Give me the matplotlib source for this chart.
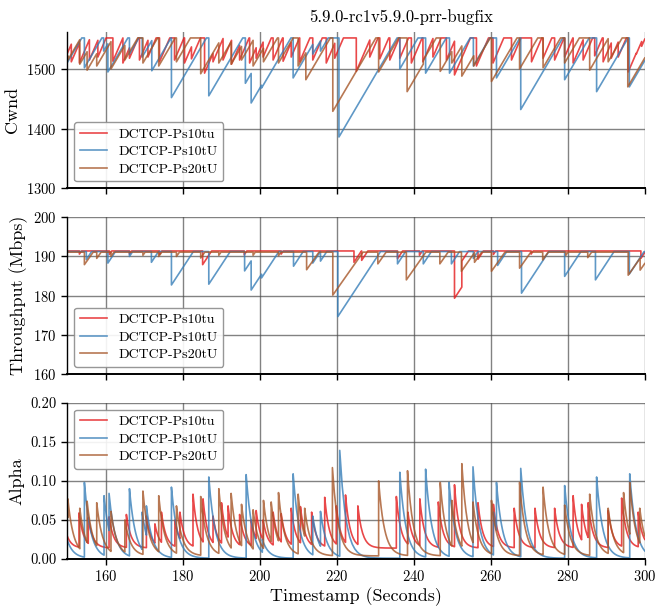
import numpy as np
import matplotlib
matplotlib.use('Agg')
import matplotlib.pyplot as plt

plt.rcParams['font.family'] = ['cmr10', 'DejaVu Serif']
plt.rcParams['mathtext.fontset'] = 'cm'
plt.rcParams['axes.unicode_minus'] = False
plt.rcParams['axes.formatter.use_mathtext'] = True

T0, T1 = 150, 300
names = ['DCTCP-Ps10tu', 'DCTCP-Ps10tU', 'DCTCP-Ps20tU']
colors = ['#e41a1c', '#377eb8', '#a65628']

# ---- Cwnd: drop times and value right after each drop (ceiling ~1552) ----
cwnd_cap = 1552
red_cwnd_t = [151.1, 153.2, 155.8, 158.0, 161.9, 164.5, 166.2, 168.8, 171.0, 174.0,
              177.9, 180.5, 182.3, 185.7, 187.9, 190.5, 192.7, 194.8, 197.4, 199.1,
              200.9, 203.5, 206.1, 208.2, 210.4, 213.8, 217.3, 219.5, 225.1, 228.6,
              231.2, 233.8, 236.4, 239.4, 242.4, 245.0, 248.5, 250.6, 256.3, 260.6,
              265.4, 270.6, 273.6, 276.6, 279.2, 281.4, 284.0, 287.0, 289.2, 291.3,
              293.1, 295.7, 297.8, 299.2]
red_cwnd_lo = [1512, 1510, 1515, 1520, 1513, 1510, 1518, 1515, 1520, 1512,
               1515, 1510, 1517, 1493, 1512, 1515, 1508, 1515, 1510, 1518,
               1520, 1515, 1513, 1520, 1512, 1515, 1510, 1518, 1496, 1520,
               1517, 1515, 1518, 1510, 1512, 1520, 1515, 1490, 1505, 1510,
               1515, 1512, 1518, 1515, 1520, 1510, 1515, 1522, 1512, 1518,
               1520, 1495, 1525, 1538]
blue_cwnd_t = [154.5, 159.5, 160.6, 166.2, 169.5, 172.0, 177.1, 186.8, 196.3, 197.8,
               200.5, 208.7, 213.8, 215.8, 220.6, 236.4, 243.1, 249.3, 255.5, 261.5,
               267.8, 279.2, 287.5, 296.0]
blue_cwnd_lo = [1502, 1530, 1495, 1525, 1520, 1497, 1452, 1455, 1476, 1443,
                1468, 1485, 1525, 1530, 1386, 1500, 1493, 1493, 1505, 1485,
                1432, 1482, 1462, 1470]
brown_cwnd_t = [150.2, 153.3, 155.2, 157.7, 161.4, 165.0, 169.7, 173.8, 178.4, 184.7,
                189.4, 192.6, 195.3, 198.3, 201.0, 204.9, 210.0, 212.0, 219.0, 230.9,
                238.3, 242.5, 246.9, 249.9, 252.5, 255.6, 260.2, 267.5, 273.6, 279.2,
                285.7, 290.5, 295.6]
brown_cwnd_lo = [1515, 1508, 1498, 1505, 1500, 1515, 1510, 1505, 1512, 1492,
                 1510, 1508, 1515, 1505, 1512, 1510, 1505, 1482, 1429, 1495,
                 1462, 1515, 1496, 1510, 1488, 1505, 1479, 1500, 1502, 1510,
                 1498, 1512, 1470]
cwnd_rate = [15, 11, 11]
cwnd_start = [1525, 1510, 1520]

# ---- Throughput: dip times, dip minimum (ceiling ~191.3 Mbps) ----
tput_cap = [191.4, 191.25, 191.1]
red_tput_t = [153.2, 161.0, 166.2, 174.0, 185.2, 196.0, 205.6, 224.5, 226.5, 235.8,
              241.5, 250.6, 252.5, 256.7, 260.7, 270.5, 299.0]
red_tput_lo = [190.6, 190.5, 190.6, 190.5, 187.9, 190.4, 190.6, 188.5, 189.0, 189.4,
               190.3, 179.3, 188.8, 189.3, 190.5, 190.6, 189.5]
blue_tput_t = [155.0, 160.6, 166.2, 171.9, 177.1, 186.8, 196.1, 197.8, 200.5, 208.8,
               213.8, 215.8, 220.3, 235.8, 242.5, 249.8, 255.5, 261.8, 268.0, 279.2,
               287.2, 296.0]
blue_tput_lo = [189.2, 188.3, 190.0, 188.5, 182.7, 182.9, 186.3, 181.4, 184.5, 187.5,
                188.3, 188.8, 174.6, 188.1, 188.1, 188.1, 189.5, 187.7, 180.6, 184.9,
                184.0, 185.5]
brown_tput_t = [154.5, 157.7, 161.4, 169.7, 173.8, 178.4, 184.7, 189.4, 198.3, 204.9,
                212.2, 219.0, 230.7, 238.1, 246.8, 252.4, 255.8, 260.2, 267.5, 273.5,
                279.5, 285.2, 295.7, 298.8]
brown_tput_lo = [187.9, 189.5, 190.0, 190.3, 190.0, 190.0, 189.6, 190.3, 190.3, 190.2,
                 186.6, 180.1, 188.1, 184.0, 188.1, 186.2, 188.5, 186.2, 187.0, 189.1,
                 190.3, 189.7, 185.2, 186.5]
tput_rate = [1.5, 1.5, 1.4]

# ---- Alpha: spike times and spike peaks ----
red_alpha_t = [153.1, 155.5, 160.9, 165.4, 170.6, 172.8, 174.5, 178.0, 179.3, 182.7,
               185.3, 187.9, 190.1, 191.8, 194.8, 197.8, 199.1, 200.9, 203.5, 205.6,
               208.2, 210.6, 213.5, 216.9, 219.9, 222.3, 225.5, 235.5, 238.5, 241.6,
               246.4, 250.6, 256.7, 260.7, 266.1, 271.5, 276.6, 281.4, 283.6, 285.3,
               290.5, 294.0, 298.3]
red_alpha_hi = [0.059, 0.053, 0.054, 0.057, 0.055, 0.045, 0.060, 0.050, 0.060, 0.083,
                0.077, 0.055, 0.072, 0.068, 0.057, 0.050, 0.062, 0.050, 0.060, 0.058,
                0.065, 0.067, 0.060, 0.079, 0.068, 0.082, 0.068, 0.080, 0.060, 0.077,
                0.073, 0.095, 0.072, 0.070, 0.065, 0.065, 0.065, 0.081, 0.070, 0.072,
                0.062, 0.078, 0.060]
blue_alpha_t = [154.5, 159.6, 160.9, 166.2, 169.5, 170.6, 177.1, 186.8, 196.5, 200.7,
                208.7, 213.8, 215.8, 220.8, 236.4, 243.1, 249.2, 255.4, 260.7, 261.5,
                267.8, 279.2, 287.5, 296.1]
blue_alpha_hi = [0.098, 0.081, 0.084, 0.090, 0.060, 0.068, 0.092, 0.105, 0.108, 0.025,
                 0.109, 0.055, 0.061, 0.139, 0.111, 0.115, 0.098, 0.118, 0.060, 0.098,
                 0.116, 0.094, 0.105, 0.109]
brown_alpha_t = [150.2, 153.3, 155.2, 157.7, 161.4, 165.0, 169.7, 173.8, 178.4, 184.7,
                 189.4, 192.6, 195.3, 198.3, 201.0, 203.0, 204.9, 210.0, 211.7, 218.9,
                 230.9, 238.4, 246.9, 249.9, 252.5, 255.4, 260.2, 267.5, 273.6, 279.2,
                 285.7, 290.5, 294.5, 296.1, 298.7]
brown_alpha_hi = [0.077, 0.065, 0.074, 0.072, 0.061, 0.050, 0.087, 0.081, 0.068, 0.080,
                  0.090, 0.084, 0.070, 0.063, 0.075, 0.073, 0.085, 0.083, 0.065, 0.117,
                  0.100, 0.113, 0.098, 0.075, 0.122, 0.073, 0.075, 0.098, 0.092, 0.069,
                  0.083, 0.065, 0.085, 0.098, 0.065]
alpha_start = [0.030, 0.025, 0.060]
alpha_floor = [0.014, 0.001, 0.004]
alpha_tau = [1.2, 1.6, 1.5]


def capped_saw(drop_t, drop_lo, cap, rate, start):
    xs, ys = [T0], [min(start, cap)]
    ct, cv = T0, min(start, cap)
    for t, lo in list(zip(drop_t, drop_lo)) + [(T1, None)]:
        t_cap = ct + (cap - cv) / rate
        if t_cap < t:
            xs += [t_cap, t]
            ys += [cap, cap]
        else:
            xs.append(t)
            ys.append(cv + rate * (t - ct))
        if lo is None:
            break
        xs.append(t)
        ys.append(lo)
        ct, cv = t, lo
    return xs, ys


def spikes(spk_t, spk_hi, start, floor, tau):
    xs, ys = [], []
    bounds = [T0] + list(spk_t) + [T1]
    peaks = [start] + list(spk_hi)
    for i in range(len(peaks)):
        seg = np.linspace(bounds[i], bounds[i + 1], 25)
        xs += list(seg)
        ys += list(floor + (peaks[i] - floor) * np.exp(-(seg - bounds[i]) / tau))
    return xs, ys


cwnd_data = [(red_cwnd_t, red_cwnd_lo), (blue_cwnd_t, blue_cwnd_lo), (brown_cwnd_t, brown_cwnd_lo)]
tput_data = [(red_tput_t, red_tput_lo), (blue_tput_t, blue_tput_lo), (brown_tput_t, brown_tput_lo)]
alpha_data = [(red_alpha_t, red_alpha_hi), (blue_alpha_t, blue_alpha_hi), (brown_alpha_t, brown_alpha_hi)]

fig, axes = plt.subplots(3, 1, figsize=(6.64, 6.15), dpi=100, sharex=True)
fig.subplots_adjust(left=0.101, right=0.971, top=0.948, bottom=0.091, hspace=0.186)

for i in range(3):
    x, y = capped_saw(cwnd_data[i][0], cwnd_data[i][1], cwnd_cap, cwnd_rate[i], cwnd_start[i])
    axes[0].plot(x, y, color=colors[i], alpha=0.8, lw=1.2, label=names[i])
    x, y = capped_saw(tput_data[i][0], tput_data[i][1], tput_cap[i], tput_rate[i], tput_cap[i])
    axes[1].plot(x, y, color=colors[i], alpha=0.8, lw=1.2, label=names[i])
    x, y = spikes(alpha_data[i][0], alpha_data[i][1], alpha_start[i], alpha_floor[i], alpha_tau[i])
    axes[2].plot(x, y, color=colors[i], alpha=0.8, lw=1.2, label=names[i])

axes[0].set_ylim(1300, 1562)
axes[0].set_yticks([1300, 1400, 1500])
axes[0].set_ylabel('Cwnd', fontsize=13)
axes[1].set_ylim(160, 200)
axes[1].set_yticks([160, 170, 180, 190, 200])
axes[1].set_ylabel('Throughput (Mbps)', fontsize=13)
axes[2].set_ylim(0, 0.2)
axes[2].set_yticks([0.0, 0.05, 0.10, 0.15, 0.20])
axes[2].yaxis.set_major_formatter(matplotlib.ticker.FormatStrFormatter('%.2f'))
axes[2].set_ylabel('Alpha', fontsize=13)
axes[2].set_xlabel('Timestamp (Seconds)', fontsize=13, labelpad=2)

for ax in axes:
    ax.set_xlim(T0, T1)
    ax.set_xticks(range(160, 301, 20))
    ax.grid(True, color='0.3', lw=1.0, alpha=0.7)
    ax.set_axisbelow(True)
    ax.spines['top'].set_visible(False)
    ax.spines['right'].set_visible(False)
    ax.spines['bottom'].set_linewidth(1.4)
    ax.spines['left'].set_linewidth(1.0)
    ax.tick_params(labelsize=10.5, length=4, width=1)
    ax.tick_params(axis='x', labelbottom=(ax is axes[2]))

leg_kw = dict(fontsize=10, framealpha=0.9, edgecolor='0.55', handlelength=2.0,
              borderaxespad=0.5, labelspacing=0.35)
axes[0].legend(loc='lower left', **leg_kw)
axes[1].legend(loc='lower left', **leg_kw)
axes[2].legend(loc='upper left', **leg_kw)

fig.text(0.604, 0.972, '5.9.0-rc1v5.9.0-prr-bugfix', ha='center', va='center', fontsize=12)

fig.savefig('out.png', dpi=100)
